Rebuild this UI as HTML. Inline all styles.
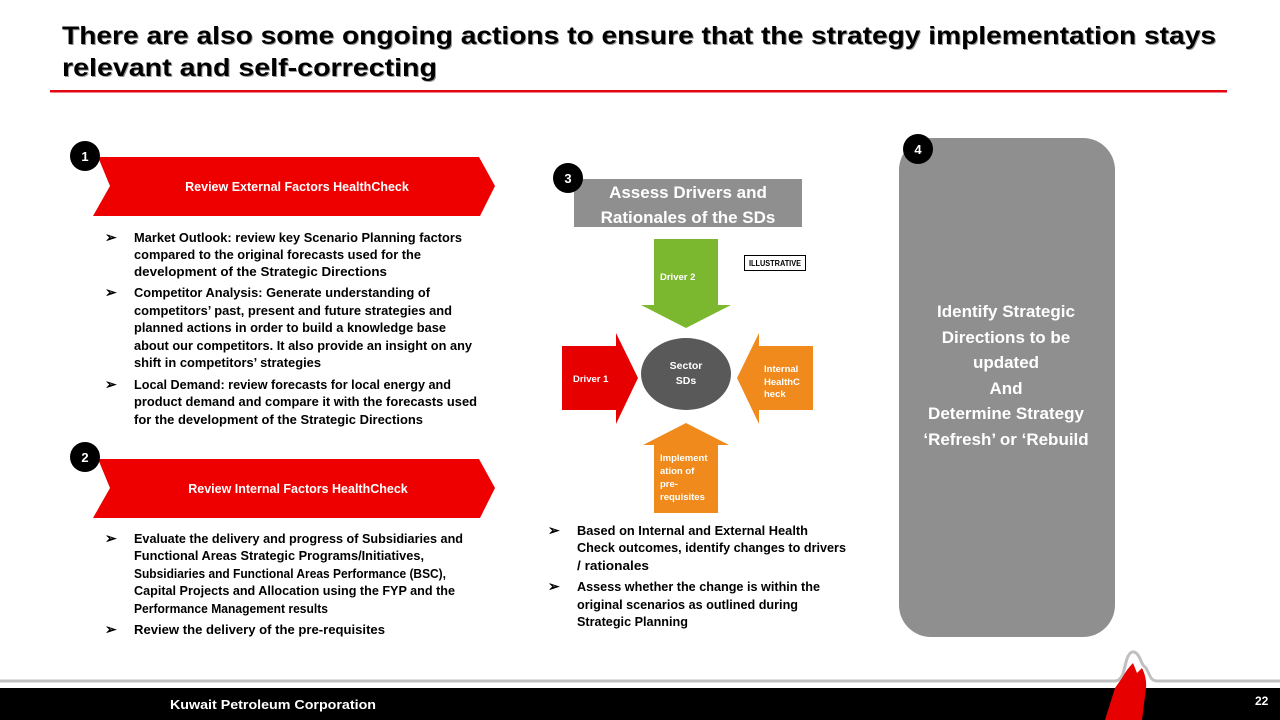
<!DOCTYPE html>
<html><head><meta charset="utf-8"><style>
html,body{margin:0;padding:0;background:#fff;}
svg{display:block;}
text{font-family:"Liberation Sans",Arial,sans-serif;font-weight:bold;}
</style></head><body>
<svg width="1280" height="720" viewBox="0 0 1280 720" xmlns="http://www.w3.org/2000/svg">
<!-- Title -->
<g font-size="25" fill="#000">
<text x="63" y="45" fill="#999" textLength="1154" lengthAdjust="spacingAndGlyphs">There are also some ongoing actions to ensure that the strategy implementation stays</text>
<text x="62" y="44" textLength="1154" lengthAdjust="spacingAndGlyphs">There are also some ongoing actions to ensure that the strategy implementation stays</text>
<text x="63" y="77" fill="#999" textLength="375" lengthAdjust="spacingAndGlyphs">relevant and self-correcting</text>
<text x="62" y="76" textLength="375" lengthAdjust="spacingAndGlyphs">relevant and self-correcting</text>
</g>
<rect x="50" y="90" width="1177" height="2.5" fill="#e30613"/>

<!-- Banner 1 -->
<polygon points="98,157 479,157 495,186 480,216 93,216 110,186" fill="#ee0000"/>
<text x="297" y="191" font-size="12.5" fill="#fff" text-anchor="middle">Review External Factors HealthCheck</text>
<circle cx="85" cy="156" r="15" fill="#000"/>
<text x="85" y="161" font-size="13" fill="#fff" text-anchor="middle">1</text>

<g font-size="12.5" fill="#000">
<text x="105" y="242" font-size="14">➢</text>
<text x="134" y="242" textLength="328" lengthAdjust="spacingAndGlyphs">Market Outlook: review key Scenario Planning factors</text>
<text x="134" y="259" textLength="287" lengthAdjust="spacingAndGlyphs">compared to the original forecasts used for the</text>
<text x="134" y="276" textLength="253" lengthAdjust="spacingAndGlyphs">development of the Strategic Directions</text>
<text x="105" y="297" font-size="14">➢</text>
<text x="134" y="297" textLength="296" lengthAdjust="spacingAndGlyphs">Competitor Analysis: Generate understanding of</text>
<text x="134" y="315" textLength="318" lengthAdjust="spacingAndGlyphs">competitors’ past, present and future strategies and</text>
<text x="134" y="332" textLength="312" lengthAdjust="spacingAndGlyphs">planned actions in order to build a knowledge base</text>
<text x="134" y="350" textLength="338" lengthAdjust="spacingAndGlyphs">about our competitors. It also provide an insight on any</text>
<text x="134" y="367" textLength="187" lengthAdjust="spacingAndGlyphs">shift in competitors’ strategies</text>
<text x="105" y="389" font-size="14">➢</text>
<text x="134" y="389" textLength="317" lengthAdjust="spacingAndGlyphs">Local Demand: review forecasts for local energy and</text>
<text x="134" y="406" textLength="343" lengthAdjust="spacingAndGlyphs">product demand and compare it with the forecasts used</text>
<text x="134" y="424" textLength="289" lengthAdjust="spacingAndGlyphs">for the development of the Strategic Directions</text>
</g>

<!-- Banner 2 -->
<polygon points="98,459 479,459 495,488 480,518 93,518 110,488" fill="#ee0000"/>
<text x="298" y="493" font-size="12.5" fill="#fff" text-anchor="middle">Review Internal Factors HealthCheck</text>
<circle cx="85" cy="457" r="15" fill="#000"/>
<text x="85" y="462" font-size="13" fill="#fff" text-anchor="middle">2</text>

<g font-size="12.5" fill="#000">
<text x="105" y="543" font-size="14">➢</text>
<text x="134" y="543" textLength="329" lengthAdjust="spacingAndGlyphs">Evaluate the delivery and progress of Subsidiaries and</text>
<text x="134" y="560" textLength="290" lengthAdjust="spacingAndGlyphs">Functional Areas Strategic Programs/Initiatives,</text>
<text x="134" y="578" textLength="312" lengthAdjust="spacingAndGlyphs">Subsidiaries and Functional Areas Performance (BSC),</text>
<text x="134" y="595" textLength="321" lengthAdjust="spacingAndGlyphs">Capital Projects and Allocation using the FYP and the</text>
<text x="134" y="613" textLength="194" lengthAdjust="spacingAndGlyphs">Performance Management results</text>
<text x="105" y="634" font-size="14">➢</text>
<text x="134" y="634" textLength="251" lengthAdjust="spacingAndGlyphs">Review the delivery of the pre-requisites</text>
</g>

<!-- Section 3 -->
<rect x="574" y="179" width="228" height="48" fill="#8f8f8f"/>
<text x="688" y="198" font-size="17" fill="#fff" text-anchor="middle">Assess Drivers and</text>
<text x="688" y="223" font-size="17" fill="#fff" text-anchor="middle">Rationales of the SDs</text>
<circle cx="568" cy="178" r="15" fill="#000"/>
<text x="568" y="183" font-size="13" fill="#fff" text-anchor="middle">3</text>

<rect x="744.5" y="255.5" width="61" height="15" fill="#fff" stroke="#000" stroke-width="1"/>
<text x="775" y="266" font-size="8" fill="#000" text-anchor="middle" textLength="52" lengthAdjust="spacingAndGlyphs">ILLUSTRATIVE</text>

<polygon points="654,239 718,239 718,305 731,305 686,328 641,305 654,305" fill="#7cb82f"/>
<text x="660" y="280" font-size="9.5" fill="#fff">Driver 2</text>
<polygon points="562,346 616,346 616,333 638,378 616,424 616,410 562,410" fill="#e60000"/>
<text x="573" y="382" font-size="9.5" fill="#fff">Driver 1</text>
<polygon points="813,346 759,346 759,333 737,378 759,424 759,410 813,410" fill="#f08a1c"/>
<text x="764" y="372" font-size="9.5" fill="#fff">Internal</text>
<text x="764" y="385" font-size="9.5" fill="#fff">HealthC</text>
<text x="764" y="397" font-size="9.5" fill="#fff">heck</text>
<polygon points="654,513 718,513 718,445 729,445 686,423 643,445 654,445" fill="#f08a1c"/>
<text x="660" y="461" font-size="9.5" fill="#fff">Implement</text>
<text x="660" y="474" font-size="9.5" fill="#fff">ation of</text>
<text x="660" y="487" font-size="9.5" fill="#fff">pre-</text>
<text x="660" y="500" font-size="9.5" fill="#fff">requisites</text>
<ellipse cx="686" cy="374" rx="45" ry="36" fill="#595959"/>
<text x="686" y="369" font-size="10.5" fill="#fff" font-weight="normal" text-anchor="middle">Sector</text>
<text x="686" y="384" font-size="10.5" fill="#fff" font-weight="normal" text-anchor="middle">SDs</text>

<g font-size="12.5" fill="#000">
<text x="548" y="535" font-size="14">➢</text>
<text x="577" y="535" textLength="231" lengthAdjust="spacingAndGlyphs">Based on Internal and External Health</text>
<text x="577" y="552" textLength="269" lengthAdjust="spacingAndGlyphs">Check outcomes, identify changes to drivers</text>
<text x="577" y="570" textLength="72" lengthAdjust="spacingAndGlyphs">/ rationales</text>
<text x="548" y="591" font-size="14">➢</text>
<text x="577" y="591" textLength="243" lengthAdjust="spacingAndGlyphs">Assess whether the change is within the</text>
<text x="577" y="609" textLength="221" lengthAdjust="spacingAndGlyphs">original scenarios as outlined during</text>
<text x="577" y="626" textLength="111" lengthAdjust="spacingAndGlyphs">Strategic Planning</text>
</g>

<!-- Section 4 -->
<rect x="899" y="138" width="216" height="499" rx="32" ry="32" fill="#8f8f8f"/>
<circle cx="918" cy="149" r="15" fill="#000"/>
<text x="918" y="154" font-size="13" fill="#fff" text-anchor="middle">4</text>
<g font-size="17" fill="#fff" text-anchor="middle">
<text x="1006" y="317">Identify Strategic</text>
<text x="1006" y="343">Directions to be</text>
<text x="1006" y="368">updated</text>
<text x="1006" y="394">And</text>
<text x="1006" y="419">Determine Strategy</text>
<text x="1006" y="445">‘Refresh’ or ‘Rebuild</text>
</g>

<!-- Footer -->
<path d="M0,681 L1115,681 Q1120,681 1123,674 L1126,662 Q1129,651 1134,652 Q1138,653 1141,661 L1143,665 L1146,668 L1150,676 Q1152,681 1157,681 L1280,681" fill="none" stroke="#c0c0c0" stroke-width="3"/>
<rect x="0" y="688" width="1280" height="32" fill="#000"/>
<path d="M1115,688 L1122,678 Q1127,669 1133,663 L1137,673 L1142,668 Q1147,678 1146,688 L1142,720 L1105,720 Z" fill="#e60000"/>
<text x="170" y="709" font-size="13" fill="#fff" textLength="206" lengthAdjust="spacingAndGlyphs">Kuwait Petroleum Corporation</text>
<text x="1255" y="705" font-size="12" fill="#fff">22</text>
</svg>
</body></html>
